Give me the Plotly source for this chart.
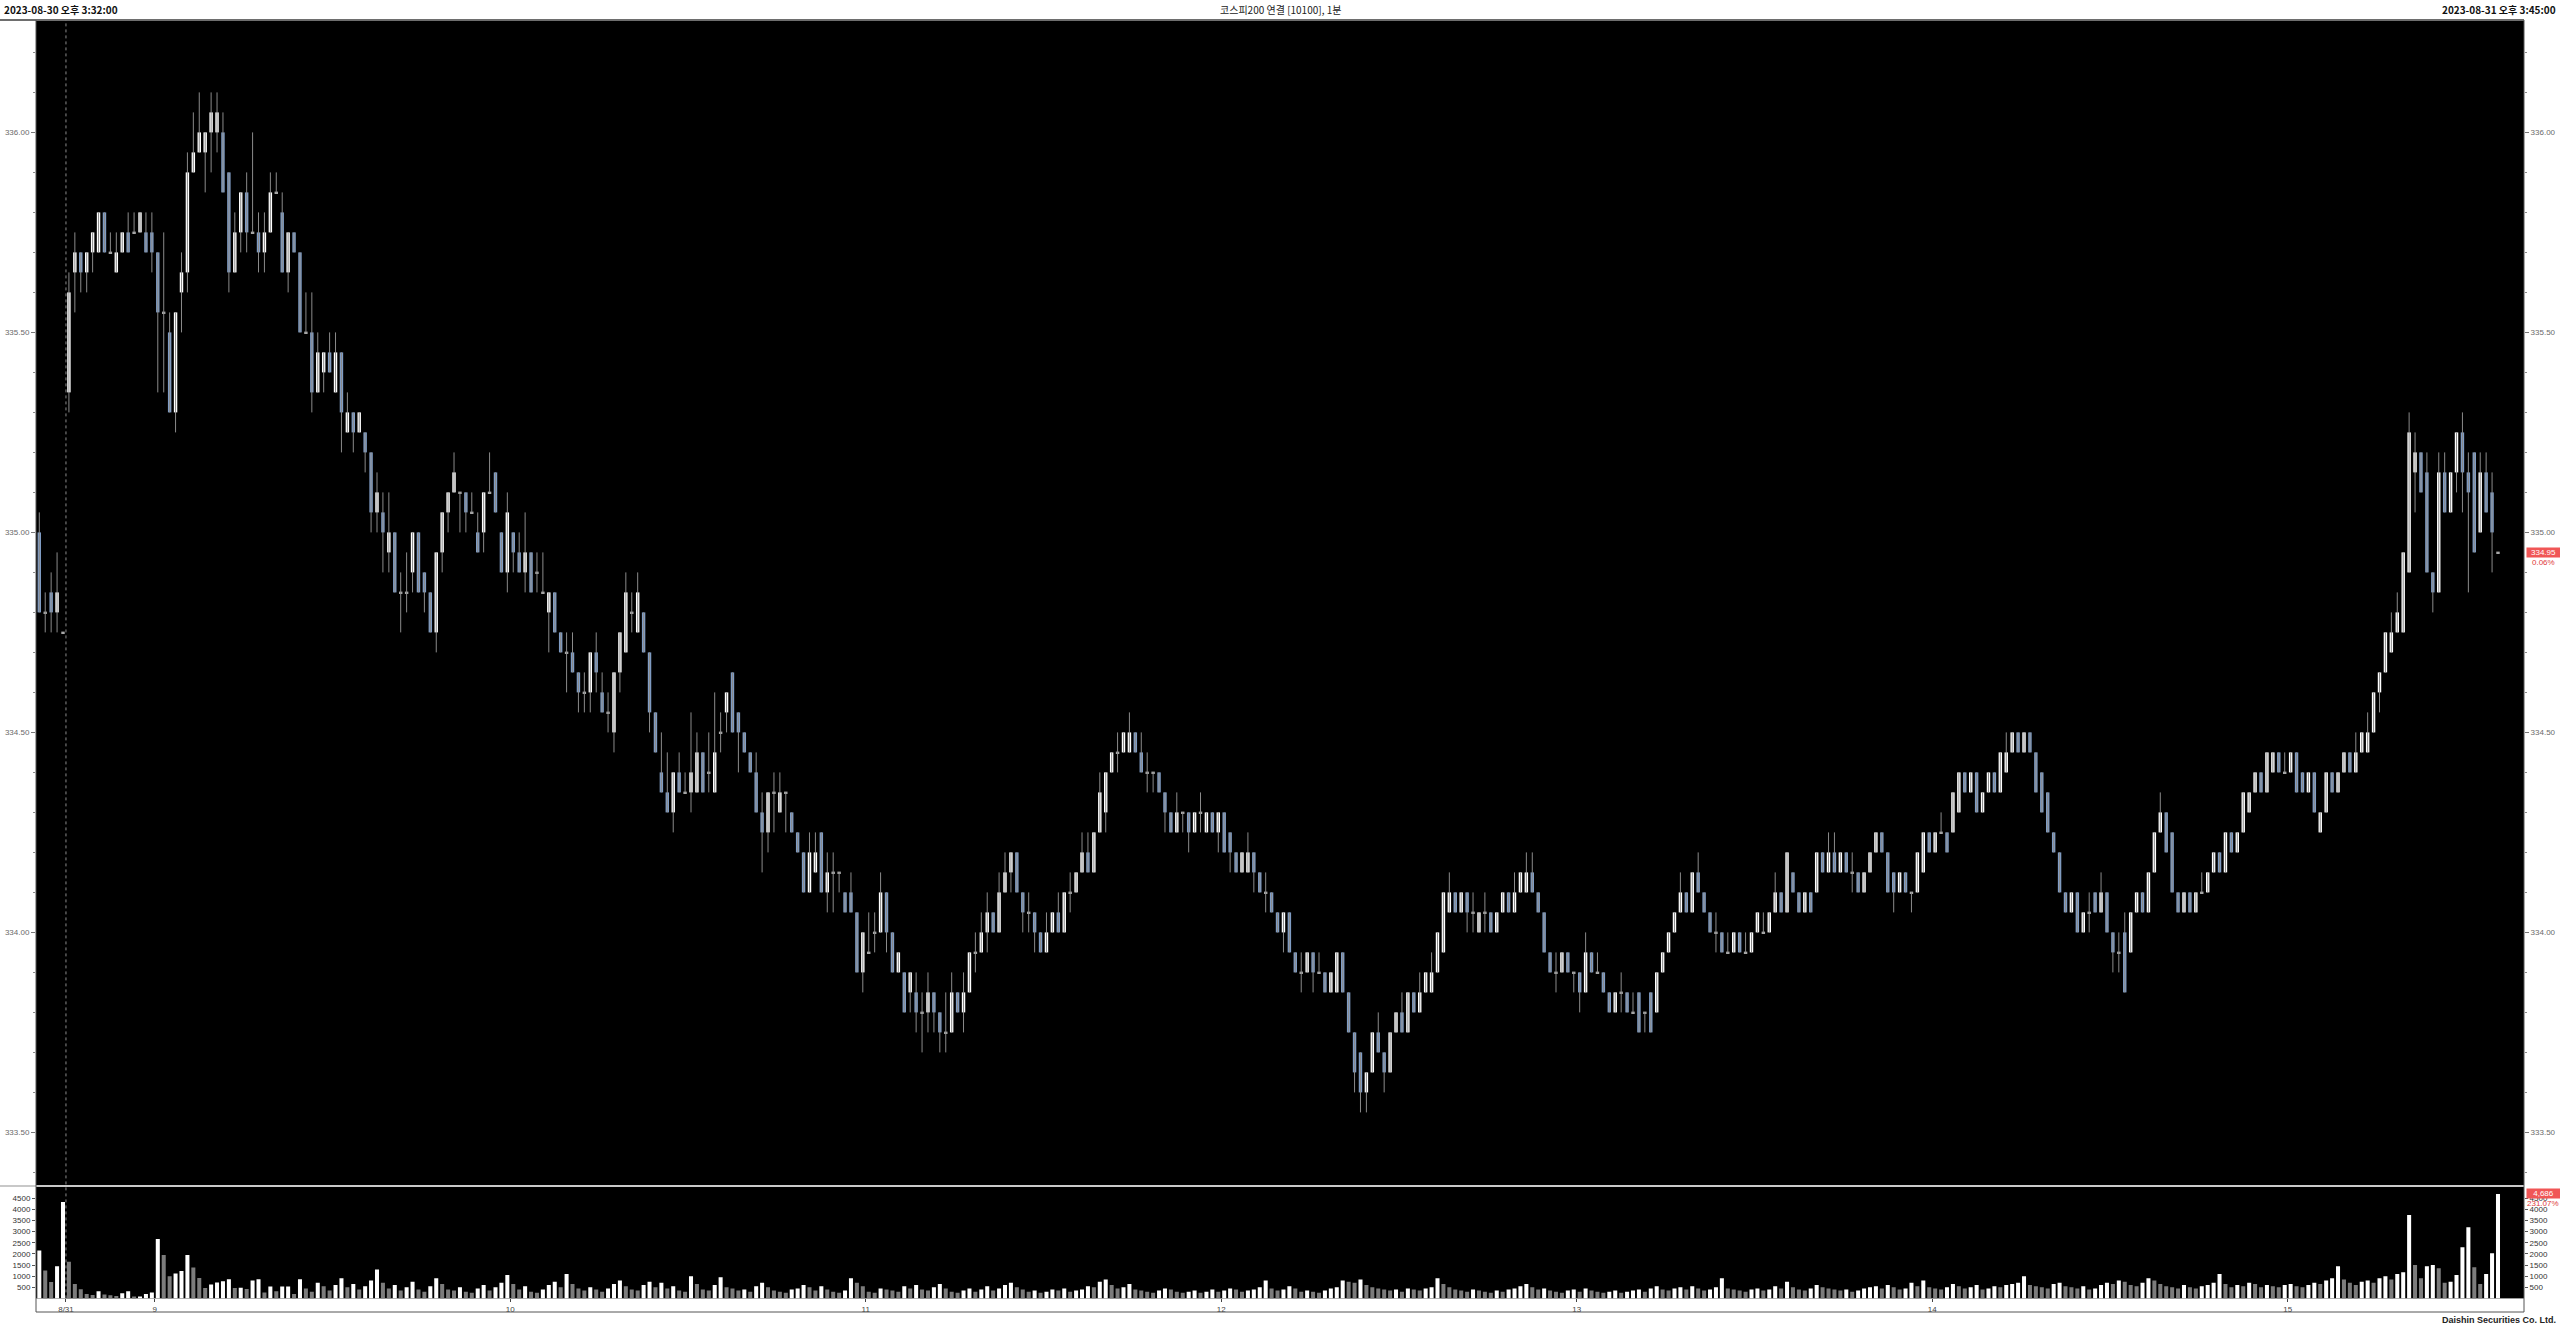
import plotly.graph_objects as go

# ---------------- data (1-minute KOSPI200 futures, 8/30 15:41 .. 8/31 15:45) ----------------
opens = [
    335.00, 334.80, 334.85, 334.80, 334.75, 335.35, 335.65, 335.70, 335.65, 335.70,
    335.70, 335.80, 335.70, 335.65, 335.70, 335.75, 335.75, 335.75, 335.75, 335.75,
    335.70, 335.55, 335.50, 335.30, 335.60, 335.65, 335.90, 335.95, 335.95, 336.00,
    336.00, 336.00, 335.90, 335.65, 335.75, 335.85, 335.75, 335.75, 335.70, 335.75,
    335.85, 335.80, 335.65, 335.75, 335.70, 335.50, 335.50, 335.35, 335.40, 335.45,
    335.35, 335.45, 335.25, 335.30, 335.25, 335.25, 335.20, 335.05, 335.05, 334.95,
    335.00, 334.85, 334.85, 334.90, 335.00, 334.90, 334.85, 334.75, 334.95, 335.05,
    335.10, 335.10, 335.10, 335.05, 335.00, 335.00, 335.10, 335.15, 335.00, 334.90,
    335.00, 334.95, 334.90, 334.95, 334.90, 334.85, 334.80, 334.85, 334.75, 334.70,
    334.70, 334.65, 334.60, 334.60, 334.70, 334.60, 334.55, 334.50, 334.65, 334.70,
    334.80, 334.75, 334.80, 334.70, 334.55, 334.40, 334.35, 334.30, 334.40, 334.35,
    334.35, 334.35, 334.45, 334.40, 334.35, 334.50, 334.55, 334.65, 334.55, 334.50,
    334.45, 334.40, 334.30, 334.25, 334.35, 334.30, 334.35, 334.30, 334.25, 334.20,
    334.10, 334.15, 334.25, 334.10, 334.15, 334.15, 334.10, 334.10, 334.05, 333.90,
    333.95, 334.00, 334.00, 334.10, 334.00, 333.90, 333.90, 333.85, 333.85, 333.80,
    333.80, 333.85, 333.80, 333.75, 333.75, 333.85, 333.80, 333.85, 333.95, 333.95,
    334.00, 334.05, 334.00, 334.10, 334.15, 334.20, 334.10, 334.05, 334.05, 334.00,
    333.95, 334.00, 334.05, 334.00, 334.10, 334.10, 334.15, 334.20, 334.15, 334.25,
    334.30, 334.40, 334.45, 334.45, 334.45, 334.50, 334.45, 334.40, 334.40, 334.40,
    334.35, 334.30, 334.25, 334.30, 334.30, 334.25, 334.30, 334.25, 334.30, 334.25,
    334.30, 334.25, 334.20, 334.15, 334.15, 334.20, 334.15, 334.10, 334.10, 334.05,
    334.00, 334.05, 333.95, 333.90, 333.90, 333.95, 333.90, 333.90, 333.85, 333.85,
    333.95, 333.85, 333.75, 333.70, 333.60, 333.65, 333.75, 333.70, 333.65, 333.75,
    333.80, 333.75, 333.85, 333.80, 333.85, 333.85, 333.90, 333.95, 334.05, 334.10,
    334.05, 334.10, 334.05, 334.00, 334.05, 334.05, 334.00, 334.05, 334.10, 334.05,
    334.10, 334.10, 334.15, 334.10, 334.05, 333.95, 333.90, 333.90, 333.95, 333.90,
    333.90, 333.85, 333.95, 333.90, 333.90, 333.85, 333.80, 333.85, 333.85, 333.80,
    333.85, 333.80, 333.85, 333.80, 333.90, 333.95, 334.00, 334.05, 334.10, 334.05,
    334.15, 334.10, 334.05, 334.00, 334.00, 333.95, 333.95, 334.00, 333.95, 333.95,
    334.00, 334.00, 334.00, 334.05, 334.10, 334.05, 334.15, 334.10, 334.05, 334.10,
    334.10, 334.20, 334.15, 334.20, 334.15, 334.20, 334.15, 334.15, 334.10, 334.15,
    334.20, 334.25, 334.20, 334.15, 334.10, 334.15, 334.10, 334.10, 334.15, 334.25,
    334.20, 334.25, 334.25, 334.25, 334.30, 334.40, 334.35, 334.40, 334.30, 334.35,
    334.40, 334.35, 334.40, 334.45, 334.50, 334.45, 334.50, 334.45, 334.40, 334.35,
    334.25, 334.20, 334.10, 334.05, 334.10, 334.00, 334.05, 334.10, 334.05, 334.10,
    334.00, 333.95, 334.00, 333.95, 334.05, 334.10, 334.05, 334.15, 334.25, 334.30,
    334.25, 334.10, 334.05, 334.10, 334.05, 334.10, 334.10, 334.15, 334.20, 334.15,
    334.25, 334.20, 334.25, 334.30, 334.35, 334.40, 334.35, 334.40, 334.45, 334.40,
    334.40, 334.45, 334.40, 334.35, 334.40, 334.25, 334.30, 334.40, 334.35, 334.40,
    334.45, 334.40, 334.45, 334.45, 334.50, 334.60, 334.65, 334.70, 334.75, 334.75,
    334.90, 335.15, 335.20, 335.15, 334.90, 334.85, 335.15, 335.05, 335.15, 335.25,
    335.15, 335.20, 335.00, 335.15, 335.10, 334.95,
]
highs = [
    335.05, 334.85, 334.90, 334.95, 334.75, 335.65, 335.75, 335.70, 335.70, 335.75,
    335.80, 335.80, 335.75, 335.75, 335.75, 335.80, 335.80, 335.80, 335.80, 335.80,
    335.70, 335.75, 335.55, 335.55, 335.70, 335.95, 336.05, 336.10, 336.00, 336.10,
    336.10, 336.05, 335.90, 335.80, 335.85, 335.90, 336.00, 335.80, 335.80, 335.90,
    335.90, 335.85, 335.75, 335.75, 335.70, 335.60, 335.60, 335.50, 335.45, 335.50,
    335.50, 335.45, 335.35, 335.30, 335.30, 335.25, 335.20, 335.15, 335.10, 335.10,
    335.00, 334.90, 334.95, 335.00, 335.00, 334.90, 334.85, 334.95, 335.05, 335.10,
    335.20, 335.10, 335.10, 335.10, 335.05, 335.10, 335.20, 335.15, 335.00, 335.10,
    335.00, 335.00, 335.05, 334.95, 334.95, 334.95, 334.85, 334.85, 334.75, 334.75,
    334.75, 334.65, 334.65, 334.70, 334.75, 334.65, 334.60, 334.65, 334.75, 334.90,
    334.85, 334.90, 334.80, 334.70, 334.55, 334.50, 334.45, 334.40, 334.45, 334.40,
    334.55, 334.50, 334.45, 334.50, 334.60, 334.55, 334.60, 334.65, 334.55, 334.50,
    334.45, 334.45, 334.35, 334.35, 334.40, 334.40, 334.35, 334.30, 334.25, 334.20,
    334.25, 334.25, 334.25, 334.20, 334.20, 334.15, 334.10, 334.15, 334.05, 334.00,
    334.05, 334.05, 334.15, 334.10, 334.00, 333.95, 333.90, 333.90, 333.90, 333.85,
    333.90, 333.85, 333.80, 333.85, 333.90, 333.85, 333.90, 333.95, 334.00, 334.05,
    334.10, 334.05, 334.15, 334.20, 334.20, 334.20, 334.10, 334.10, 334.05, 334.00,
    334.05, 334.05, 334.10, 334.10, 334.15, 334.15, 334.25, 334.25, 334.25, 334.40,
    334.40, 334.45, 334.50, 334.50, 334.55, 334.50, 334.50, 334.45, 334.40, 334.40,
    334.35, 334.30, 334.35, 334.30, 334.30, 334.30, 334.35, 334.30, 334.30, 334.30,
    334.30, 334.25, 334.20, 334.20, 334.25, 334.20, 334.15, 334.15, 334.10, 334.05,
    334.05, 334.05, 333.95, 333.95, 333.95, 333.95, 333.95, 333.90, 333.90, 333.95,
    333.95, 333.85, 333.75, 333.70, 333.65, 333.75, 333.80, 333.70, 333.75, 333.80,
    333.85, 333.85, 333.85, 333.90, 333.90, 333.95, 334.00, 334.10, 334.15, 334.10,
    334.10, 334.10, 334.10, 334.05, 334.10, 334.05, 334.05, 334.10, 334.10, 334.15,
    334.15, 334.20, 334.20, 334.10, 334.05, 333.95, 333.95, 333.95, 333.95, 333.90,
    333.90, 334.00, 333.95, 333.95, 333.90, 333.85, 333.85, 333.90, 333.85, 333.85,
    333.85, 333.80, 333.85, 333.90, 333.95, 334.00, 334.05, 334.15, 334.10, 334.15,
    334.20, 334.10, 334.05, 334.05, 334.00, 334.00, 334.00, 334.00, 334.00, 334.00,
    334.05, 334.05, 334.05, 334.15, 334.10, 334.20, 334.15, 334.10, 334.10, 334.10,
    334.20, 334.20, 334.25, 334.25, 334.20, 334.20, 334.20, 334.15, 334.15, 334.20,
    334.25, 334.25, 334.20, 334.15, 334.15, 334.15, 334.10, 334.20, 334.25, 334.25,
    334.25, 334.30, 334.25, 334.35, 334.40, 334.40, 334.40, 334.40, 334.35, 334.40,
    334.40, 334.45, 334.50, 334.50, 334.50, 334.50, 334.50, 334.45, 334.40, 334.35,
    334.25, 334.20, 334.10, 334.10, 334.10, 334.05, 334.10, 334.10, 334.15, 334.10,
    334.00, 334.00, 334.05, 334.05, 334.10, 334.10, 334.15, 334.25, 334.35, 334.30,
    334.25, 334.10, 334.10, 334.10, 334.10, 334.15, 334.15, 334.20, 334.20, 334.25,
    334.25, 334.25, 334.35, 334.35, 334.40, 334.40, 334.45, 334.45, 334.45, 334.45,
    334.45, 334.45, 334.40, 334.40, 334.40, 334.30, 334.40, 334.40, 334.40, 334.45,
    334.45, 334.50, 334.50, 334.55, 334.60, 334.65, 334.75, 334.80, 334.85, 334.95,
    335.30, 335.25, 335.20, 335.20, 334.90, 335.20, 335.20, 335.15, 335.25, 335.30,
    335.20, 335.20, 335.20, 335.20, 335.15, 334.95,
]
lows = [
    334.80, 334.75, 334.75, 334.75, 334.75, 335.30, 335.55, 335.60, 335.60, 335.65,
    335.70, 335.70, 335.70, 335.65, 335.70, 335.70, 335.75, 335.75, 335.70, 335.65,
    335.35, 335.35, 335.30, 335.25, 335.50, 335.60, 335.90, 335.95, 335.85, 335.90,
    335.95, 335.85, 335.60, 335.65, 335.70, 335.70, 335.75, 335.65, 335.65, 335.75,
    335.85, 335.65, 335.60, 335.70, 335.50, 335.50, 335.30, 335.35, 335.35, 335.40,
    335.35, 335.20, 335.25, 335.20, 335.25, 335.15, 335.00, 335.00, 334.90, 334.90,
    334.85, 334.75, 334.80, 334.85, 334.85, 334.80, 334.75, 334.70, 334.90, 335.00,
    335.10, 335.00, 335.00, 335.05, 334.95, 334.95, 335.10, 335.05, 334.90, 334.85,
    334.90, 334.90, 334.85, 334.85, 334.85, 334.85, 334.70, 334.75, 334.70, 334.60,
    334.65, 334.55, 334.55, 334.55, 334.60, 334.55, 334.50, 334.45, 334.60, 334.70,
    334.75, 334.75, 334.70, 334.50, 334.45, 334.35, 334.30, 334.25, 334.35, 334.35,
    334.30, 334.35, 334.35, 334.35, 334.35, 334.45, 334.50, 334.50, 334.40, 334.45,
    334.40, 334.30, 334.15, 334.20, 334.25, 334.30, 334.25, 334.25, 334.20, 334.10,
    334.10, 334.15, 334.10, 334.05, 334.05, 334.10, 334.05, 334.05, 333.90, 333.85,
    333.95, 333.95, 334.00, 333.95, 333.90, 333.90, 333.80, 333.80, 333.75, 333.70,
    333.75, 333.75, 333.70, 333.70, 333.75, 333.80, 333.75, 333.85, 333.90, 333.95,
    333.95, 334.00, 334.00, 334.10, 334.10, 334.10, 334.00, 334.00, 333.95, 333.95,
    333.95, 334.00, 334.00, 334.00, 334.05, 334.10, 334.15, 334.15, 334.15, 334.25,
    334.25, 334.40, 334.40, 334.45, 334.45, 334.45, 334.40, 334.35, 334.35, 334.35,
    334.25, 334.25, 334.25, 334.25, 334.20, 334.25, 334.25, 334.25, 334.25, 334.20,
    334.20, 334.15, 334.15, 334.15, 334.15, 334.10, 334.10, 334.05, 334.05, 334.00,
    333.95, 333.95, 333.90, 333.85, 333.90, 333.85, 333.90, 333.85, 333.85, 333.85,
    333.85, 333.75, 333.60, 333.55, 333.55, 333.65, 333.70, 333.60, 333.65, 333.75,
    333.75, 333.75, 333.80, 333.80, 333.85, 333.85, 333.90, 333.95, 334.05, 334.05,
    334.05, 334.00, 334.00, 334.00, 334.00, 334.00, 334.00, 334.05, 334.05, 334.05,
    334.10, 334.10, 334.10, 334.05, 333.95, 333.90, 333.85, 333.90, 333.90, 333.85,
    333.80, 333.85, 333.90, 333.90, 333.85, 333.80, 333.80, 333.80, 333.80, 333.80,
    333.75, 333.75, 333.75, 333.80, 333.90, 333.95, 334.00, 334.05, 334.05, 334.05,
    334.10, 334.05, 334.00, 333.95, 333.95, 333.95, 333.95, 333.95, 333.95, 333.95,
    334.00, 334.00, 334.00, 334.05, 334.05, 334.05, 334.10, 334.05, 334.05, 334.05,
    334.10, 334.15, 334.15, 334.15, 334.15, 334.15, 334.10, 334.10, 334.10, 334.15,
    334.20, 334.20, 334.10, 334.05, 334.10, 334.10, 334.05, 334.10, 334.15, 334.20,
    334.20, 334.25, 334.20, 334.25, 334.30, 334.35, 334.35, 334.30, 334.30, 334.35,
    334.35, 334.35, 334.40, 334.45, 334.45, 334.45, 334.45, 334.35, 334.30, 334.25,
    334.20, 334.10, 334.05, 334.05, 334.00, 334.00, 334.00, 334.05, 334.05, 334.00,
    333.90, 333.90, 333.85, 333.95, 334.05, 334.05, 334.05, 334.15, 334.25, 334.20,
    334.10, 334.05, 334.05, 334.05, 334.05, 334.10, 334.10, 334.15, 334.15, 334.15,
    334.20, 334.20, 334.25, 334.30, 334.35, 334.35, 334.35, 334.40, 334.40, 334.40,
    334.40, 334.35, 334.35, 334.35, 334.30, 334.25, 334.30, 334.35, 334.35, 334.40,
    334.40, 334.40, 334.45, 334.45, 334.50, 334.55, 334.65, 334.70, 334.75, 334.75,
    334.90, 335.05, 335.10, 334.90, 334.80, 334.85, 335.05, 335.05, 335.10, 335.05,
    334.85, 334.95, 335.00, 335.05, 334.90, 334.95,
]
closes = [
    334.80, 334.80, 334.80, 334.85, 334.75, 335.60, 335.70, 335.65, 335.70, 335.75,
    335.80, 335.70, 335.70, 335.70, 335.75, 335.70, 335.75, 335.80, 335.70, 335.70,
    335.55, 335.55, 335.30, 335.55, 335.65, 335.90, 335.95, 336.00, 336.00, 336.05,
    336.05, 335.85, 335.65, 335.75, 335.85, 335.75, 335.75, 335.70, 335.75, 335.85,
    335.85, 335.65, 335.75, 335.70, 335.50, 335.50, 335.35, 335.45, 335.45, 335.40,
    335.45, 335.30, 335.30, 335.25, 335.30, 335.20, 335.05, 335.10, 335.00, 335.00,
    334.85, 334.85, 334.85, 335.00, 334.85, 334.85, 334.75, 334.95, 335.05, 335.10,
    335.15, 335.10, 335.05, 335.05, 334.95, 335.10, 335.10, 335.05, 334.90, 335.05,
    334.95, 334.90, 334.95, 334.85, 334.90, 334.85, 334.85, 334.75, 334.70, 334.70,
    334.65, 334.60, 334.60, 334.70, 334.65, 334.55, 334.55, 334.65, 334.75, 334.85,
    334.80, 334.85, 334.70, 334.55, 334.45, 334.35, 334.30, 334.40, 334.35, 334.35,
    334.40, 334.45, 334.35, 334.40, 334.45, 334.50, 334.60, 334.50, 334.50, 334.45,
    334.40, 334.30, 334.25, 334.35, 334.35, 334.35, 334.35, 334.25, 334.20, 334.10,
    334.20, 334.20, 334.10, 334.15, 334.15, 334.15, 334.05, 334.05, 333.90, 334.00,
    333.95, 334.00, 334.10, 334.00, 333.90, 333.95, 333.80, 333.90, 333.80, 333.80,
    333.85, 333.80, 333.75, 333.75, 333.85, 333.80, 333.85, 333.95, 333.95, 334.00,
    334.05, 334.00, 334.10, 334.15, 334.20, 334.10, 334.05, 334.05, 334.00, 333.95,
    334.00, 334.05, 334.00, 334.10, 334.10, 334.15, 334.20, 334.15, 334.25, 334.35,
    334.40, 334.45, 334.45, 334.50, 334.50, 334.45, 334.40, 334.40, 334.40, 334.35,
    334.30, 334.25, 334.30, 334.30, 334.25, 334.30, 334.30, 334.30, 334.25, 334.30,
    334.20, 334.20, 334.15, 334.20, 334.20, 334.15, 334.10, 334.10, 334.05, 334.00,
    334.05, 333.95, 333.90, 333.90, 333.95, 333.90, 333.90, 333.85, 333.90, 333.95,
    333.85, 333.75, 333.65, 333.60, 333.65, 333.75, 333.70, 333.65, 333.75, 333.80,
    333.75, 333.85, 333.80, 333.85, 333.90, 333.90, 334.00, 334.10, 334.10, 334.05,
    334.10, 334.05, 334.05, 334.05, 334.05, 334.00, 334.05, 334.10, 334.05, 334.10,
    334.15, 334.15, 334.10, 334.05, 333.95, 333.90, 333.90, 333.95, 333.90, 333.90,
    333.85, 333.95, 333.90, 333.90, 333.85, 333.80, 333.85, 333.85, 333.80, 333.80,
    333.75, 333.80, 333.75, 333.90, 333.95, 334.00, 334.05, 334.10, 334.05, 334.15,
    334.10, 334.05, 334.00, 334.00, 333.95, 333.95, 334.00, 333.95, 333.95, 334.00,
    334.05, 334.00, 334.05, 334.10, 334.05, 334.20, 334.10, 334.05, 334.10, 334.05,
    334.20, 334.15, 334.20, 334.15, 334.20, 334.15, 334.15, 334.10, 334.15, 334.20,
    334.25, 334.20, 334.10, 334.10, 334.15, 334.10, 334.10, 334.20, 334.25, 334.20,
    334.25, 334.25, 334.20, 334.35, 334.40, 334.35, 334.40, 334.30, 334.35, 334.40,
    334.35, 334.45, 334.45, 334.50, 334.45, 334.50, 334.45, 334.35, 334.30, 334.25,
    334.20, 334.10, 334.05, 334.10, 334.00, 334.05, 334.05, 334.05, 334.10, 334.00,
    333.95, 333.95, 333.85, 334.05, 334.10, 334.05, 334.15, 334.25, 334.30, 334.20,
    334.10, 334.05, 334.10, 334.05, 334.10, 334.10, 334.15, 334.20, 334.15, 334.25,
    334.20, 334.25, 334.35, 334.35, 334.40, 334.35, 334.45, 334.45, 334.40, 334.40,
    334.45, 334.35, 334.35, 334.40, 334.30, 334.30, 334.40, 334.35, 334.40, 334.45,
    334.40, 334.45, 334.50, 334.50, 334.60, 334.65, 334.75, 334.75, 334.80, 334.95,
    335.25, 335.20, 335.10, 334.90, 334.85, 335.15, 335.05, 335.15, 335.25, 335.15,
    335.10, 334.95, 335.15, 335.05, 335.00, 334.95,
]
volumes = [
    2150, 1250, 740, 1450, 4330, 1650, 650, 410, 200, 150,
    320, 170, 140, 110, 230, 320, 80, 90, 200, 260,
    2670, 1950, 1000, 1120, 1230, 1950, 1390, 920, 470, 620,
    710, 770, 860, 470, 475, 420, 800, 860, 260, 530,
    320, 530, 535, 200, 860, 450, 300, 700, 550, 350,
    600, 900, 500, 650, 400, 550, 800, 1300, 700, 450,
    600, 350, 500, 750, 400, 300, 550, 900, 650, 400,
    350, 500, 300, 250, 450, 600, 350, 500, 700, 1050,
    650, 400, 550, 300, 250, 400, 600, 750, 500, 1100,
    650, 450, 350, 500, 400, 300, 450, 650, 800, 550,
    400, 350, 600, 750, 500, 700, 450, 550, 350, 300,
    1000, 650, 400, 350, 600, 950, 500, 450, 350, 400,
    300, 550, 700, 500, 350, 300, 250, 400, 450, 600,
    500, 350, 550, 400, 300, 250, 350, 900, 700, 550,
    300, 250, 450, 400, 350, 300, 550, 450, 600, 400,
    350, 500, 650, 450, 300, 250, 350, 450, 300, 400,
    550, 350, 450, 600, 700, 500, 400, 300, 350, 250,
    300, 400, 350, 450, 300, 350, 400, 550, 500, 750,
    850, 600, 450, 500, 650, 400, 350, 300, 250, 350,
    450, 400, 300, 250, 300, 350, 250, 300, 400, 300,
    350, 450, 400, 300, 350, 400, 500, 800, 450, 350,
    400, 550, 450, 300, 350, 300, 250, 350, 450, 500,
    800, 750, 700, 850, 600, 500, 450, 400, 350, 400,
    300, 450, 400, 350, 450, 500, 900, 650, 500, 400,
    350, 300, 400, 350, 300, 250, 350, 300, 400, 450,
    550, 650, 500, 400, 450, 350, 300, 250, 350, 400,
    300, 450, 350, 300, 250, 300, 350, 250, 300, 350,
    400, 300, 450, 550, 400, 350, 450, 500, 400, 550,
    450, 350, 400, 500, 900, 450, 400, 350, 300, 400,
    450, 350, 400, 550, 450, 750, 500, 400, 350, 450,
    600, 500, 450, 400, 350, 400, 300, 350, 450, 500,
    550, 450, 600, 500, 400, 450, 700, 550, 800, 500,
    450, 400, 500, 650, 550, 450, 500, 600, 400, 450,
    550, 500, 600, 650, 700, 1000, 600, 550, 500, 450,
    650, 700, 550, 500, 450, 550, 400, 450, 600, 700,
    650, 800, 750, 600, 550, 700, 900, 800, 650, 550,
    500, 450, 600, 500, 450, 550, 600, 700, 1100, 650,
    500, 600, 550, 700, 650, 500, 600, 550, 500, 600,
    650, 550, 500, 600, 700, 650, 800, 900, 1450, 850,
    700, 600, 750, 800, 700, 900, 1000, 850, 1100, 1180,
    3750, 1500, 900, 1450, 1500, 1350, 700, 750, 1050, 2300,
    3200, 1400, 650, 1100, 2028, 4686,
]
prev_day_close = 334.75

price_ticks = [333.5, 334.0, 334.5, 335.0, 335.5, 336.0]
price_minor_ticks = [333.4, 333.6, 333.7, 333.8, 333.9, 334.1, 334.2, 334.3, 334.4, 334.6,
                     334.7, 334.8, 334.9, 335.1, 335.2, 335.3, 335.4, 335.6, 335.7, 335.8,
                     335.9, 336.1, 336.2]
volume_ticks = [500, 1000, 1500, 2000, 2500, 3000, 3500, 4000, 4500]
time_tick_index = [5, 20, 80, 140, 200, 260, 320, 380]
time_tick_labels = ["8/31", "9", "10", "11", "12", "13", "14", "15"]

header_left = "2023-08-30 오후 3:32:00"
header_center = "코스피200 연결 [10100], 1분"
header_right = "2023-08-31 오후 3:45:00"
footer = "Daishin Securities Co. Ltd."

assert len(opens) == len(highs) == len(lows) == len(closes) == len(volumes)

# ---------------- styling ----------------
W, H = 2560, 1328
FONT = "Liberation Sans, Arial, sans-serif"
KFONT = "Noto Sans CJK KR, Liberation Sans, sans-serif"
UP = "#ffffff"
DOWN = "#7f9cc4"
DOJI = "#a8a8a8"
WICK = "#8a8a8a"
VOL_UP = "#ffffff"
VOL_DN = "#7c7c7c"


def fx(px):
    return px / W


def fy(py):
    return 1 - py / H


X0, X1 = 36, 2524
MAIN_TOP, MAIN_BOT, VOL_BOT = 20, 1186, 1298.4
x_range = [-0.557, 419.39]
price_range = [333.366, 336.281]
vol_range = [0, 5050]

n = len(opens)
idx = list(range(n))

# wicks
wx, wy = [], []
for i in idx:
    lo = min(lows[i], opens[i], closes[i])
    hi = max(highs[i], opens[i], closes[i])
    wx += [i, i, None]
    wy += [lo, hi, None]

# bodies
bases, heights, bcolors = [], [], []
for i in idx:
    o, c = opens[i], closes[i]
    if c > o:
        bases.append(o); heights.append(c - o); bcolors.append(UP)
    elif c < o:
        bases.append(c); heights.append(o - c); bcolors.append(DOWN)
    else:
        bases.append(o - 0.002); heights.append(0.004); bcolors.append(DOJI)

# volume colours: volume up vs previous bar
vcolors = []
for i in idx:
    if i == 0 or volumes[i] >= volumes[i - 1]:
        vcolors.append(VOL_UP)
    else:
        vcolors.append(VOL_DN)

fig = go.Figure()
fig.add_trace(go.Scatter(x=wx, y=wy, mode="lines", line=dict(color=WICK, width=1),
                         xaxis="x", yaxis="y", hoverinfo="skip", showlegend=False))
fig.add_trace(go.Bar(x=idx, y=heights, base=bases, width=0.58,
                     marker=dict(color=bcolors, line=dict(width=0)),
                     xaxis="x", yaxis="y", hoverinfo="skip", showlegend=False))
fig.add_trace(go.Bar(x=idx, y=volumes, width=0.68,
                     marker=dict(color=vcolors, line=dict(width=0)),
                     xaxis="x2", yaxis="y2", hoverinfo="skip", showlegend=False))
# carriers for the right-hand axes
fig.add_trace(go.Scatter(x=[idx[0]], y=[closes[0]], mode="markers", marker=dict(opacity=0),
                         xaxis="x", yaxis="y3", hoverinfo="skip", showlegend=False))
fig.add_trace(go.Scatter(x=[idx[0]], y=[volumes[0]], mode="markers", marker=dict(opacity=0),
                         xaxis="x2", yaxis="y4", hoverinfo="skip", showlegend=False))

price_axis = dict(range=price_range, tickmode="array", tickvals=price_ticks,
                  ticktext=[f"{v:.2f}" for v in price_ticks],
                  ticks="outside", ticklen=4, tickwidth=1, tickcolor="#777",
                  tickfont=dict(family=FONT, size=8, color="#6a6a6a"),
                  minor=dict(tickmode="array", tickvals=price_minor_ticks, ticks="outside",
                             ticklen=2, tickcolor="#888", showgrid=False),
                  showgrid=False, zeroline=False, showline=False, fixedrange=True)
vol_axis = dict(range=vol_range, tickmode="array", tickvals=volume_ticks,
                ticktext=[str(v) for v in volume_ticks],
                ticks="outside", ticklen=3, tickwidth=1, tickcolor="#555",
                tickfont=dict(family=FONT, size=8, color="#333"),
                showgrid=False, zeroline=False, showline=False, fixedrange=True)

fig.update_layout(
    width=W, height=H, autosize=False,
    margin=dict(l=0, r=0, t=0, b=0),
    paper_bgcolor="white", plot_bgcolor="black",
    barmode="overlay", hovermode=False, showlegend=False,
    xaxis=dict(domain=[fx(X0), fx(X1)], range=x_range, anchor="y",
               showticklabels=False, ticks="", showgrid=False, zeroline=False, showline=False,
               fixedrange=True),
    xaxis2=dict(domain=[fx(X0), fx(X1)], range=x_range, anchor="y2", matches="x",
                tickmode="array", tickvals=[k - 0.5 for k in time_tick_index],
                ticktext=time_tick_labels, ticks="outside", ticklen=3, tickcolor="#444",
                tickfont=dict(family=FONT, size=8, color="#444"),
                showgrid=False, zeroline=False, showline=False, fixedrange=True),
    yaxis=dict(domain=[fy(MAIN_BOT), fy(MAIN_TOP)], anchor="x", side="left", **price_axis),
    yaxis3=dict(overlaying="y", anchor="x", side="right", **price_axis),
    yaxis2=dict(domain=[fy(VOL_BOT), fy(MAIN_BOT)], anchor="x2", side="left", **vol_axis),
    yaxis4=dict(overlaying="y2", anchor="x2", side="right", **vol_axis),
)

line_dark = dict(color="#6e6e6e", width=2)
shapes = [
    dict(type="line", xref="paper", yref="paper", x0=0, x1=fx(X1), y0=fy(MAIN_TOP), y1=fy(MAIN_TOP),
         line=line_dark, layer="above"),
    dict(type="line", xref="paper", yref="paper", x0=0, x1=fx(X1), y0=fy(MAIN_BOT), y1=fy(MAIN_BOT),
         line=dict(color="#c8c8c8", width=2), layer="above"),
    dict(type="line", xref="paper", yref="paper", x0=fx(X0), x1=fx(X1), y0=fy(1312), y1=fy(1312),
         line=dict(color="#555", width=1), layer="above"),
    dict(type="line", xref="paper", yref="paper", x0=fx(X0), x1=fx(X0), y0=fy(1312), y1=fy(MAIN_TOP),
         line=dict(color="#555", width=1), layer="above"),
    dict(type="line", xref="paper", yref="paper", x0=fx(X1), x1=fx(X1), y0=fy(1312), y1=fy(MAIN_TOP),
         line=dict(color="#555", width=1), layer="above"),
    dict(type="line", xref="x", yref="paper", x0=time_tick_index[0] - 0.5, x1=time_tick_index[0] - 0.5,
         y0=fy(VOL_BOT), y1=fy(MAIN_TOP), line=dict(color="#8a8a8a", width=1, dash="dot"),
         layer="above"),
]
fig.update_layout(shapes=shapes)

last_close = closes[-1]
chg = (last_close - prev_day_close) / prev_day_close * 100
vol_chg = volumes[-1] / volumes[-2] * 100

ann = [
    dict(text=f"<b>{header_left}</b>", x=fx(2), y=fy(10), xref="paper", yref="paper",
         xanchor="left", yanchor="middle", showarrow=False,
         font=dict(family=KFONT, size=10, color="#111")),
    dict(text=header_center, x=fx(1280), y=fy(10), xref="paper", yref="paper",
         xanchor="center", yanchor="middle", showarrow=False,
         font=dict(family=KFONT, size=10, color="#222")),
    dict(text=f"<b>{header_right}</b>", x=fx(2558), y=fy(10), xref="paper", yref="paper",
         xanchor="right", yanchor="middle", showarrow=False,
         font=dict(family=KFONT, size=10, color="#111")),
    dict(text=f"<b>{footer}</b>", x=fx(2558), y=fy(1320), xref="paper", yref="paper",
         xanchor="right", yanchor="middle", showarrow=False,
         font=dict(family=FONT, size=9, color="#222")),
    dict(text=f"{last_close:.2f}", x=fx(2526), y=last_close, xref="paper", yref="y",
         xanchor="left", yanchor="middle", showarrow=False, bgcolor="#f05656",
         width=33, height=9, borderpad=0, align="center",
         font=dict(family=FONT, size=8, color="white")),
    dict(text=f"{chg:.2f}%", x=fx(2543), y=last_close, xref="paper", yref="y",
         xanchor="center", yanchor="middle", yshift=-10, showarrow=False,
         font=dict(family=FONT, size=8, color="#e03a3a")),
    dict(text=f"{volumes[-1]:,}", x=fx(2526), y=4735, xref="paper", yref="y2",
         xanchor="left", yanchor="middle", showarrow=False, bgcolor="#f05656",
         width=33, height=9, borderpad=0, align="center",
         font=dict(family=FONT, size=8, color="white")),
    dict(text=f"{vol_chg:.2f}%", x=fx(2543), y=4735, xref="paper", yref="y2",
         xanchor="center", yanchor="middle", yshift=-10, showarrow=False,
         font=dict(family=FONT, size=8, color="#e03a3a")),
]
fig.update_layout(annotations=ann)

fig.write_html(
    "out.html",
    config=dict(displayModeBar=False),
    post_script="document.body.style.margin='0px';document.body.style.overflow='hidden';",
)
